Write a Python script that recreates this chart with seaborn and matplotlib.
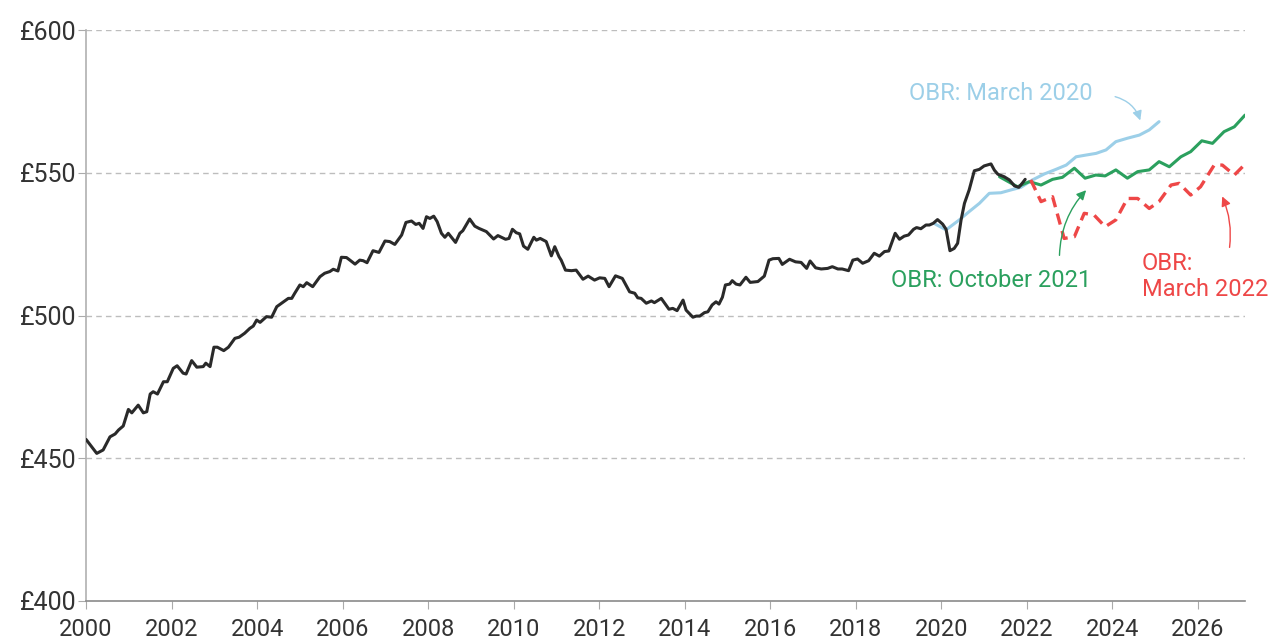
import pandas as pd
import matplotlib.pyplot as plt
import seaborn as sns

# Actual weekly amount (black line)
actual_year = [
    2000.00, 2000.25, 2000.40, 2000.56, 2000.68, 2000.76, 2000.87, 2000.99, 2001.07, 2001.22,
    2001.34, 2001.42, 2001.50, 2001.57, 2001.67, 2001.81, 2001.90, 2002.04, 2002.13, 2002.27,
    2002.34, 2002.47, 2002.59, 2002.74, 2002.80, 2002.90, 2002.99, 2003.07, 2003.22, 2003.33,
    2003.48, 2003.58, 2003.71, 2003.83, 2003.91, 2003.99, 2004.07, 2004.22, 2004.34, 2004.46,
    2004.57, 2004.73, 2004.81, 2004.88, 2005.00, 2005.08, 2005.16, 2005.30, 2005.47, 2005.58,
    2005.70, 2005.78, 2005.89, 2005.97, 2006.09, 2006.17, 2006.29, 2006.40, 2006.48, 2006.57,
    2006.71, 2006.85, 2006.99, 2007.10, 2007.22, 2007.38, 2007.48, 2007.61, 2007.71, 2007.79,
    2007.88, 2007.96, 2008.04, 2008.13, 2008.21, 2008.31, 2008.39, 2008.47, 2008.64, 2008.74,
    2008.81, 2008.97, 2009.09, 2009.19, 2009.36, 2009.53, 2009.63, 2009.81, 2009.89, 2009.97,
    2010.06, 2010.14, 2010.23, 2010.33, 2010.47, 2010.53, 2010.62, 2010.76, 2010.88, 2010.96,
    2011.06, 2011.11, 2011.21, 2011.35, 2011.46, 2011.62, 2011.74, 2011.89, 2012.01, 2012.13,
    2012.23, 2012.38, 2012.54, 2012.71, 2012.83, 2012.90, 2012.98, 2013.10, 2013.22, 2013.29,
    2013.45, 2013.63, 2013.72, 2013.82, 2013.96, 2014.03, 2014.19, 2014.27, 2014.35, 2014.46,
    2014.54, 2014.64, 2014.73, 2014.80, 2014.88, 2014.95, 2015.05, 2015.11, 2015.20, 2015.29,
    2015.43, 2015.53, 2015.71, 2015.86, 2015.97, 2016.06, 2016.20, 2016.28, 2016.45, 2016.59,
    2016.72, 2016.85, 2016.93, 2017.06, 2017.19, 2017.34, 2017.45, 2017.58, 2017.68, 2017.83,
    2017.93, 2018.04, 2018.16, 2018.30, 2018.43, 2018.55, 2018.67, 2018.77, 2018.92, 2019.02,
    2019.13, 2019.23, 2019.35, 2019.42, 2019.52, 2019.64, 2019.72, 2019.81, 2019.91, 2020.03,
    2020.11, 2020.20, 2020.30, 2020.38, 2020.46, 2020.54, 2020.65, 2020.77, 2020.89, 2021.00,
    2021.16, 2021.24, 2021.32, 2021.47, 2021.59, 2021.71, 2021.81, 2021.90, 2021.96,
]
actual_value = [
    456.6, 451.7, 452.9, 457.5, 458.5, 459.9, 461.3, 467.1, 465.9, 468.6,
    465.9, 466.3, 472.5, 473.3, 472.5, 476.8, 476.8, 481.5, 482.4, 479.8,
    479.5, 484.2, 481.9, 482.1, 483.3, 482.1, 488.9, 488.9, 487.7, 488.9,
    492.0, 492.4, 493.8, 495.5, 496.3, 498.4, 497.6, 499.6, 499.4, 503.1,
    504.3, 506.0, 506.0, 507.8, 510.7, 510.1, 511.5, 510.1, 513.6, 514.8,
    515.4, 516.2, 515.6, 520.4, 520.3, 519.4, 518.0, 519.4, 519.2, 518.5,
    522.7, 522.1, 526.1, 525.9, 524.9, 528.2, 532.6, 533.1, 531.9, 532.3,
    530.5, 534.6, 534.0, 534.8, 532.9, 528.8, 527.4, 528.8, 525.6, 528.8,
    529.7, 533.8, 531.3, 530.5, 529.4, 526.8, 528.0, 526.7, 527.0, 530.2,
    529.0, 528.6, 524.3, 523.2, 527.4, 526.4, 527.0, 525.9, 520.9, 524.1,
    520.6, 519.4, 515.9, 515.7, 515.9, 512.7, 513.8, 512.4, 513.2, 513.0,
    510.1, 513.9, 513.0, 508.3, 507.8, 506.2, 506.0, 504.3, 505.1, 504.5,
    506.0, 502.2, 502.5, 501.7, 505.4, 501.9, 499.4, 499.8, 499.8, 501.0,
    501.3, 503.7, 504.8, 504.0, 506.4, 510.7, 511.0, 512.2, 511.0, 510.7,
    513.4, 511.6, 511.9, 513.8, 519.4, 519.9, 520.0, 517.9, 519.7, 518.8,
    518.6, 516.5, 519.1, 516.7, 516.3, 516.5, 517.1, 516.3, 516.3, 515.7,
    519.4, 519.8, 518.3, 519.2, 521.8, 520.8, 522.4, 522.6, 528.8, 526.7,
    527.8, 528.2, 530.2, 530.8, 530.4, 531.7, 531.7, 532.3, 533.6, 532.0,
    530.2, 522.7, 523.5, 525.3, 533.4, 539.3, 544.0, 550.7, 551.2, 552.4,
    553.1, 550.9, 549.5, 548.6, 547.5, 545.4, 544.9, 546.5, 547.7,
]

# OBR forecast, March 2020 (light blue)
mar20_year = [2019.86, 2020.11, 2020.42, 2020.65, 2020.89, 2021.12, 2021.39, 2021.63, 2021.86,
              2022.13, 2022.41, 2022.68, 2022.92, 2023.15, 2023.38, 2023.62, 2023.85, 2024.08,
              2024.35, 2024.63, 2024.86, 2025.09]
mar20_value = [532.0, 530.0, 533.5, 536.4, 539.3, 542.8, 543.0, 544.0, 544.9,
               547.5, 549.6, 551.2, 552.7, 555.6, 556.2, 556.8, 558.0, 560.9,
               562.1, 563.2, 565.0, 567.9]

# OBR forecast, October 2021 (green)
oct21_year = [2021.36, 2021.78, 2022.06, 2022.33, 2022.60, 2022.83, 2023.11, 2023.36, 2023.61,
              2023.83, 2024.08, 2024.35, 2024.59, 2024.86, 2025.09, 2025.33, 2025.60, 2025.83,
              2026.09, 2026.34, 2026.61, 2026.85, 2027.10]
oct21_value = [548.6, 545.1, 546.9, 545.7, 547.7, 548.4, 551.6, 548.1, 549.2,
               548.9, 551.0, 548.1, 550.4, 551.0, 553.9, 552.1, 555.6, 557.4,
               561.2, 560.3, 564.4, 566.1, 570.2]

# OBR forecast, March 2022 (red dashed)
mar22_year = [2022.09, 2022.33, 2022.60, 2022.87, 2023.11, 2023.34, 2023.57, 2023.83, 2024.08,
              2024.35, 2024.59, 2024.86, 2025.09, 2025.37, 2025.56, 2025.83, 2026.06, 2026.38,
              2026.57, 2026.85, 2027.10]
mar22_value = [547.5, 539.9, 541.6, 527.0, 527.6, 535.8, 535.2, 531.1, 533.5,
               541.0, 541.0, 537.5, 539.9, 545.7, 546.3, 542.2, 545.1, 552.7,
               552.7, 549.2, 553.0]

year_ticks = list(range(2000, 2027, 2))
value_ticks = [400, 450, 500, 550, 600]

BLACK = '#2a2a2a'
BLUE = '#9ccfe8'
GREEN = '#2ba05e'
RED = '#ee4747'

sns.set_style('white')
plt.rcParams['font.family'] = ['Roboto', 'DejaVu Sans']

fig = plt.figure(figsize=(12.69, 6.39), dpi=100)
ax = fig.add_axes([0.0678, 0.0595, 0.9133, 0.8935])

df_actual = pd.DataFrame({'year': actual_year, 'value': actual_value})
df_mar20 = pd.DataFrame({'year': mar20_year, 'value': mar20_value})
df_oct21 = pd.DataFrame({'year': oct21_year, 'value': oct21_value})
df_mar22 = pd.DataFrame({'year': mar22_year, 'value': mar22_value})

sns.lineplot(data=df_mar20, x='year', y='value', color=BLUE, lw=2.2, ax=ax, zorder=3)
sns.lineplot(data=df_oct21, x='year', y='value', color=GREEN, lw=2.2, ax=ax, zorder=3)
sns.lineplot(data=df_mar22, x='year', y='value', color=RED, lw=2.4, ax=ax, zorder=3,
             linestyle=(0, (3.4, 2)))
sns.lineplot(data=df_actual, x='year', y='value', color=BLACK, lw=2.2, ax=ax, zorder=4)

ax.set_xlim(2000, 2027.1)
ax.set_ylim(400, 600)
ax.set_xticks(year_ticks)
ax.set_xticklabels([str(y) for y in year_ticks])
ax.set_yticks(value_ticks)
ax.set_yticklabels([f'£{v}' for v in value_ticks])
ax.set_xlabel('')
ax.set_ylabel('')

for v in value_ticks[1:]:
    ax.axhline(v, color='#bdbdbd', lw=1, ls=(0, (4, 3)), zorder=1)

for side in ['top', 'right']:
    ax.spines[side].set_visible(False)
ax.spines['left'].set_color('#b0b0b0')
ax.spines['bottom'].set_color('#8a8a8a')
ax.spines['left'].set_linewidth(1.2)
ax.spines['bottom'].set_linewidth(1.2)

ax.tick_params(axis='x', length=6, color='#aaaaaa', labelsize=17, labelcolor='#333333', pad=6)
ax.tick_params(axis='y', length=6, color='#aaaaaa', labelsize=18, labelcolor='#333333', pad=1)
ax.xaxis.set_ticks_position('bottom')
ax.yaxis.set_ticks_position('left')

# labels and arrows
ax.text(2021.38, 577.6, 'OBR: March 2020', color=BLUE, fontsize=17, ha='center', va='center')
ax.text(2021.17, 512.4, 'OBR: October 2021', color=GREEN, fontsize=17, ha='center', va='center')
ax.text(2024.68, 513.6, 'OBR:\nMarch 2022', color=RED, fontsize=17, ha='left', va='center',
        linespacing=1.2)

ax.annotate('', xy=(2024.67, 567.4), xytext=(2024.0, 576.9),
            arrowprops=dict(arrowstyle='-|>', color=BLUE, lw=1,
                            connectionstyle='arc3,rad=-0.3', mutation_scale=14))
ax.annotate('', xy=(2023.43, 544.6), xytext=(2022.76, 520.1),
            arrowprops=dict(arrowstyle='-|>', color=GREEN, lw=1,
                            connectionstyle='arc3,rad=-0.2', mutation_scale=14))
ax.annotate('', xy=(2026.54, 542.6), xytext=(2026.73, 522.9),
            arrowprops=dict(arrowstyle='-|>', color=RED, lw=1,
                            connectionstyle='arc3,rad=0.15', mutation_scale=14))

plt.savefig('out.png', dpi=100)
